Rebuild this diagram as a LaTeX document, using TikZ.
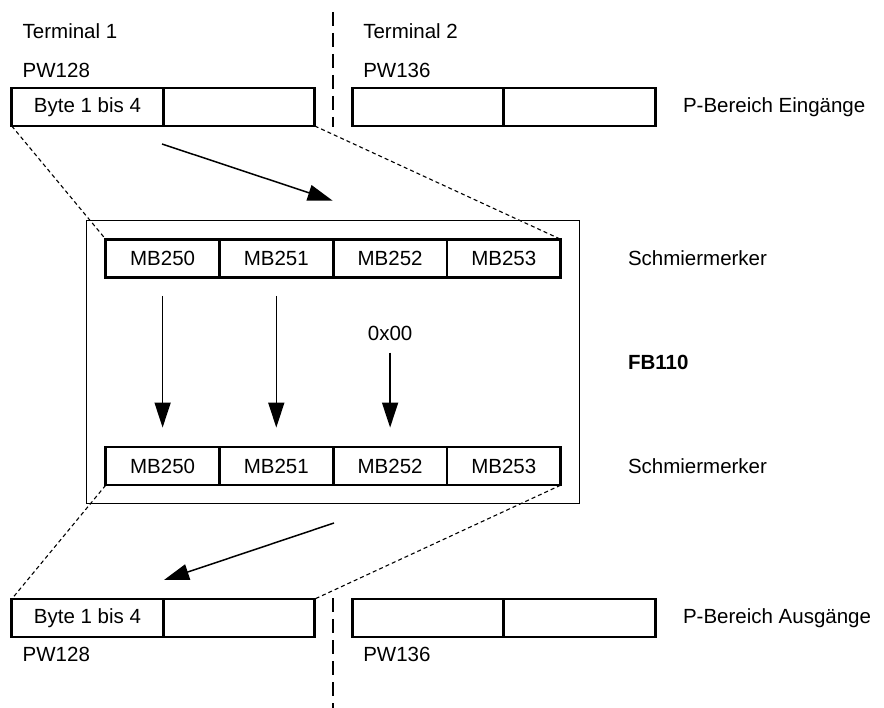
\documentclass[tikz,border=0pt]{standalone}
\usepackage{fontspec}
\setmainfont{Liberation Sans}
\usetikzlibrary{arrows.meta}
\begin{document}
\begin{tikzpicture}[x=1pt,y=-1pt,
  font=\fontsize{20.5}{24}\selectfont,
  cell/.style={draw,line width=2.6pt,rectangle,inner sep=0pt,outer sep=0pt,minimum height=38pt,minimum width=151.5pt},
  mbcell/.style={draw,line width=2.6pt,rectangle,inner sep=0pt,outer sep=0pt,minimum height=38pt,minimum width=113.75pt},
  lbl/.style={inner sep=0pt,outer sep=0pt,anchor=base west},
  side/.style={inner sep=0pt,outer sep=0pt,anchor=west},
  zoomline/.style={line width=1.1pt,dash pattern=on 4pt off 3pt},
  sepline/.style={line width=1.3pt,dash pattern=on 14pt off 7pt},
  flow/.style={line width=1.5pt,-{Triangle[length=25pt,width=16pt]}}
]
\useasboundingbox (0,0) rectangle (884,708);

% top row (inputs)
\node[cell] (t1a) at (87.5,107) {Byte 1 bis 4};
\node[cell] (t1b) at (239,107) {};
\node[cell] (t2a) at (428,107) {};
\node[cell] (t2b) at (579.5,107) {};
\node[lbl] (term1) at (22.7,38.3) {Terminal 1};
\node[lbl] (pw128t) at (22.7,77.3) {PW128};
\node[lbl] (term2) at (363.3,38.3) {Terminal 2};
\node[lbl] (pw136t) at (363.3,77.3) {PW136};
\node[side] (pein) at (683,107) {P-Bereich Eingänge};

% FB110 box
\node[draw,line width=1.3pt,rectangle,inner sep=0pt,outer sep=0pt,minimum width=492.8pt,minimum height=283pt] (fb) at (333.1,362.2) {};

% upper MB row
\node[mbcell] (u1) at (162.6,258.3) {MB250};
\node[mbcell] (u2) at (276.3,258.3) {MB251};
\node[mbcell] (u3) at (390.1,258.3) {MB252};
\node[mbcell] (u4) at (503.8,258.3) {MB253};
% lower MB row
\node[mbcell] (l1) at (162.6,466.2) {MB250};
\node[mbcell] (l2) at (276.3,466.2) {MB251};
\node[mbcell] (l3) at (390.1,466.2) {MB252};
\node[mbcell] (l4) at (503.8,466.2) {MB253};

\node[side] (sm1) at (628,258.3) {Schmiermerker};
\node[side] (sm2) at (628,466.2) {Schmiermerker};
\node[side,font=\fontsize{20.5}{24}\selectfont\bfseries] (fbl) at (628,362) {FB110};

\node[inner sep=0pt,outer sep=0pt] (zero) at (390.1,333) {0x00};

% vertical arrows
\draw[flow,shorten <=18.7pt,shorten >=19.6pt] (u1.south) -- (l1.north);
\draw[flow,shorten <=18.7pt,shorten >=19.6pt] (u2.south) -- (l2.north);
\draw[flow,shorten <=12.3pt,shorten >=19.6pt] (zero.south) -- (l3.north);

% bottom row (outputs)
\node[cell] (b1a) at (87.5,618) {Byte 1 bis 4};
\node[cell] (b1b) at (239,618) {};
\node[cell] (b2a) at (428,618) {};
\node[cell] (b2b) at (579.5,618) {};
\node[lbl] (pw128b) at (22.7,661.7) {PW128};
\node[lbl] (pw136b) at (363.3,661.7) {PW136};
\node[side] (paus) at (683,618) {P-Bereich Ausgänge};

% zoom (dashed) lines
\draw[zoomline] (t1a.south west) -- (u1.north west);
\draw[zoomline] (t1b.south east) -- (u4.north east);
\draw[zoomline] (l1.south west) -- (b1a.north west);
\draw[zoomline] (l4.south east) -- (b1b.north east);

% terminal separators
\coordinate (s1) at (333,12);
\coordinate (s2) at (333,127);
\coordinate (s3) at (333,598);
\coordinate (s4) at (333,708);
\draw[sepline] (s1) -- (s2);
\draw[sepline] (s3) -- (s4);

% diagonal transfer arrows
\coordinate (a1) at (162,144);
\coordinate (a2) at (332.7,200.7);
\coordinate (a3) at (334,523);
\coordinate (a4) at (164,580);
\draw[flow] (a1) -- (a2);
\draw[flow] (a3) -- (a4);
\end{tikzpicture}
\end{document}
